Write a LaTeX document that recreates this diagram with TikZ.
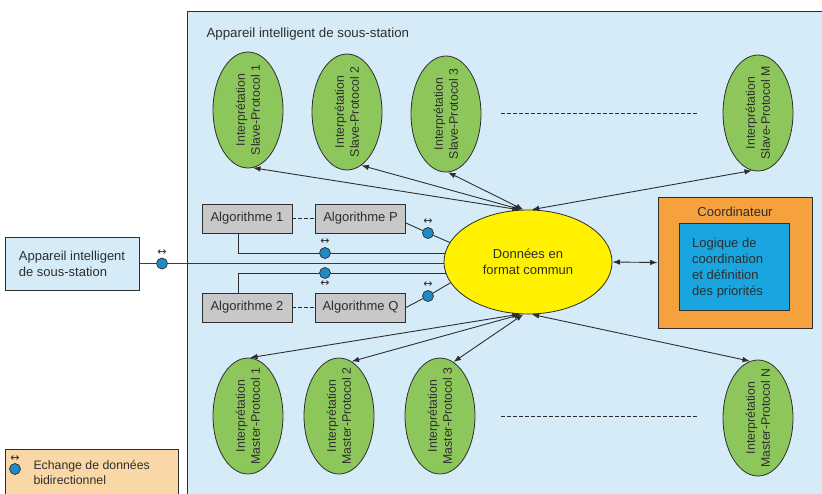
\documentclass[tikz,border=0pt]{standalone}
\usepackage{fontspec}
\setmainfont{Liberation Sans}
\newfontfamily\symfont{DejaVu Sans}
\usetikzlibrary{shapes.geometric,arrows.meta,calc}
\definecolor{bgblue}{HTML}{D5ECF8}
\definecolor{leafgreen}{HTML}{8DC65B}
\definecolor{yel}{HTML}{FFF100}
\definecolor{orng}{HTML}{F5A13D}
\definecolor{cyanb}{HTML}{19A6E0}
\definecolor{algogrey}{HTML}{C8C8C8}
\definecolor{dotblue}{HTML}{1F8AC4}
\definecolor{legor}{HTML}{FAD7A6}
\definecolor{linec}{HTML}{2E2E2E}
\definecolor{brownl}{HTML}{4A3826}
\pgfdeclarelayer{bg}\pgfdeclarelayer{lines}\pgfsetlayers{bg,lines,main}
\tikzset{
  proto/.style={ellipse, draw=linec, line width=0.8pt, fill=leafgreen, minimum width=70pt, minimum height=116pt, inner sep=0pt},
  protot/.style={rotate=90, align=center, font=\fontsize{12.3}{15}\selectfont, inner sep=0pt},
  algo/.style={draw=linec, line width=0.8pt, fill=algogrey, minimum width=90pt, minimum height=29pt, inner sep=0pt},
  bdot/.style={circle, draw=linec, line width=0.7pt, fill=dotblue, minimum size=11pt, inner sep=0pt},
  bidir/.style={font=\symfont\fontsize{11}{11}\selectfont, inner sep=0pt},
  conn/.style={draw=linec, line width=0.9pt},
  arr/.style={conn, {Latex[length=7.5pt,width=5.5pt]}-{Latex[length=7.5pt,width=5.5pt]}},
  sep/.style={draw=linec, line width=0.9pt, dash pattern=on 3.5pt off 2.5pt},
}
\begin{document}
\begin{tikzpicture}[x=1pt,y=-1pt, font=\fontsize{13}{16}\selectfont, text=linec]
\useasboundingbox (0,0) rectangle (822,493);
\begin{pgfonlayer}{bg}
  \fill[white] (0,0) rectangle (822,493);
  \draw[draw=linec, line width=0.8pt, fill=bgblue] (187,11) rectangle (840,510);
\end{pgfonlayer}
\node[anchor=base west, font=\fontsize{13.3}{16}\selectfont] (title) at (203,37) {Appareil intelligent de sous-station};

% protocol ellipses
\node[proto] (s1) at (248,110) {};
\node[protot] (s1t) at (s1) {Interprétation\\Slave-Protocol 1};
\node[proto] (s2) at (347,112) {};
\node[protot] (s2t) at (s2) {Interprétation\\Slave-Protocol 2};
\node[proto] (s3) at (446,114) {};
\node[protot] (s3t) at (s3) {Interprétation\\Slave-Protocol 3};
\node[proto] (sM) at (758,113) {};
\node[protot] (sMt) at (sM) {Interprétation\\Slave-Protocol M};
\node[proto] (m1) at (248,416) {};
\node[protot] (m1t) at (m1) {Interprétation\\Master-Protocol 1};
\node[proto] (m2) at (339,416) {};
\node[protot] (m2t) at (m2) {Interprétation\\Master-Protocol 2};
\node[proto] (m3) at (440,416) {};
\node[protot] (m3t) at (m3) {Interprétation\\Master-Protocol 3};
\node[proto] (mN) at (758,418) {};
\node[protot] (mNt) at (mN) {Interprétation\\Master-Protocol N};

\draw[sep] (501,113) -- (697,113);
\draw[sep] (501,416) -- (697,416);

% central data
\node[ellipse, draw=linec, line width=0.8pt, fill=yel, minimum width=168pt, minimum height=104pt, inner sep=0pt, align=center] (d) at (528,262) {Données en\\format commun};

% coordinator
\node[draw=linec, line width=0.8pt, fill=orng, minimum width=154pt, minimum height=131pt, inner sep=0pt] (co) at (735,262.5) {};
\node (cot) at (735,212) {Coordinateur};
\node[draw=linec, line width=0.8pt, fill=cyanb, minimum width=110pt, minimum height=87pt, inner sep=0pt] (lg) at (734,266.5) {};
\node[anchor=west, align=left, inner sep=0pt] (lgt) at (692,268) {Logique de\\coordination\\et définition\\des priorités};

% left device
\node[draw=linec, line width=0.8pt, fill=bgblue, minimum width=134pt, minimum height=53pt, inner sep=0pt, align=left] (L) at (72,263.5) {Appareil intelligent\\de sous-station};

% algorithms
\node[algo] (a1) at (247,218.5) {Algorithme 1};
\node[algo] (aP) at (360.5,218.5) {Algorithme P};
\node[algo] (a2) at (247,307.5) {Algorithme 2};
\node[algo] (aQ) at (360.5,307.5) {Algorithme Q};
\draw[sep] (a1.east) -- (aP.west);
\draw[sep] (a2.east) -- (aQ.west);

% dots
\node[bdot] (k0) at (162,263.5) {};
\node[bidir] (k0t) at (162,252.5) {↔};
\node[bdot] (k1) at (325,253) {};
\node[bidir] (k1t) at (325,242) {↔};
\node[bdot] (k2) at (325,273) {};
\node[bidir] (k2t) at (325,283.5) {↔};
\node[bdot] (kP) at (428,233) {};
\node[bidir] (kPt) at (428,222) {↔};
\node[bdot] (kQ) at (428,296) {};
\node[bidir] (kQt) at (428,285) {↔};

% legend
\node[draw=linec, line width=0.8pt, fill=legor, minimum width=173pt, minimum height=60pt, inner sep=0pt, anchor=north west] (leg) at (5,449) {};
\node[bdot] (kL) at (15,469) {};
\node[bidir] (kLt) at (15,458.5) {↔};
\node[anchor=west, align=left, font=\fontsize{12.3}{15}\selectfont] (legt) at (30,472.5) {Echange de données\\bidirectionnel};

% connectors
\begin{pgfonlayer}{lines}
  \draw[conn, draw=brownl, line width=1pt] (L.east) -- (k0) -- ($(L.east -| d.west)+(5,0)$);
  \coordinate (a1b) at ($(a1.south)+(-9,0)$);
  \coordinate (a2t) at ($(a2.north)+(-9,0)$);
  \draw[conn] (a1b) |- (k1) -- ($(d.west |- k1)+(5,0)$);
  \draw[conn] (a2t) |- (k2) -- ($(d.west |- k2)+(5,0)$);
  \coordinate (aPe) at ($(aP.east)+(0,4.5)$);
  \draw[conn] (aPe) -- (kP) -- (d.166);
  \draw[conn] (aQ.east) -- (kQ) -- (d.195);
\end{pgfonlayer}
\draw[arr] (s1.-85) -- (d.99);
\draw[arr] (s2.-75) -- (d.97);
\draw[arr] (s3.-88) -- (d.95);
\draw[arr] (sM.-96) -- (d.86);
\draw[arr] (m1.88) -- (d.261);
\draw[arr] (m2.77) -- (d.263);
\draw[arr] (m3.76) -- (d.265);
\draw[arr] (mN.98) -- (d.274);
\draw[arr] (d.east) -- (co.west);
\end{tikzpicture}
\end{document}
